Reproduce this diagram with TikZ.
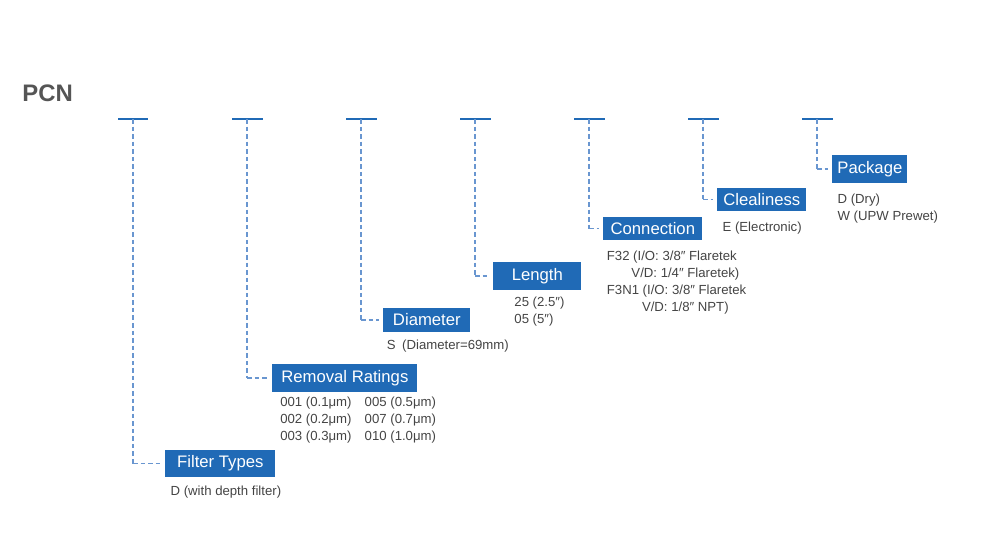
\documentclass[tikz,border=0pt]{standalone}
\usepackage{fontspec}
\setmainfont{Liberation Sans}
\usetikzlibrary{positioning}
\definecolor{tagblue}{RGB}{32,106,182}
\definecolor{leadblue}{RGB}{105,150,208}
\definecolor{notegray}{RGB}{68,68,68}
\definecolor{titlegray}{RGB}{85,85,85}

\begin{document}
\begin{tikzpicture}[
  x=0.02cm, y=-0.02cm,
  bar/.style={fill=tagblue, minimum width=0.62cm, minimum height=1.3pt, inner sep=0pt},
  tag/.style={fill=tagblue, text=white, font=\fontsize{9.5}{11}\selectfont,
    minimum height=0.42cm, inner xsep=0pt, anchor=west},
  note/.style={text=notegray, font=\fontsize{7.5}{9.7}\selectfont, align=left, inner sep=0pt},
  lead/.style={draw=leadblue, dash pattern=on 2.6pt off 1.7pt, line width=0.9pt}
]
\useasboundingbox (0,0) rectangle (1000,538);

\node[font=\bfseries\fontsize{13.6}{16}\selectfont, text=titlegray, anchor=west, inner sep=0pt] (pcn) at (22,93) {PCN};

% code positions
\foreach \i/\x in {1/133,2/247,3/361,4/475,5/589,6/703,7/817}
  \node[bar] (b\i) at (\x,119) {};

% field tags
\node[tag, minimum width=2.2cm] (ft) at (165,463.5) {Filter Types};
\node[tag, minimum width=2.9cm] (rr) at (272,378) {Removal Ratings};
\node[tag, minimum width=1.74cm] (dm) at (383,320) {Diameter};
\node[tag, minimum width=1.76cm] (ln) at (493,276) {Length};
\node[tag, minimum width=1.98cm] (cn) at (603,228.5) {Connection};
\node[tag, minimum width=1.78cm] (cl) at (717,199.5) {Clealiness};
\node[tag, minimum width=1.5cm] (pk) at (832,169) {Package};

\foreach \b/\t in {b1/ft,b2/rr,b3/dm,b4/ln,b5/cn,b6/cl,b7/pk}{
  \coordinate (c\t) at (\b.center |- \t.west);
  \draw[lead] (\b.center) -- (c\t);
  \draw[lead, shorten >=2.2pt] (c\t) -- (\t.west);
}

% options
\node[note, below=4.5pt of ft.south west, anchor=north west, xshift=3pt] (ftn) {D (with depth filter)};
\node[note, below=1.2pt of rr.south west, anchor=north west, xshift=4.5pt] (rrn)
  {\begin{tabular}{@{}l@{\hspace{7.5pt}}l@{}}
   001 (0.1μm) & 005 (0.5μm)\\
   002 (0.2μm) & 007 (0.7μm)\\
   003 (0.3μm) & 010 (1.0μm)
   \end{tabular}};
\node[note, below=4pt of dm.south west, anchor=north west, xshift=2pt] (dmn) {S\enspace(Diameter=69mm)};
\node[note, below=3.5pt of ln.south west, anchor=north west, xshift=12pt] (lnn) {25 (2.5″)\\05 (5″)};
\node[note, below=5.5pt of cn.south west, anchor=north west, xshift=2pt] (cnn)
  {F32 (I/O: 3/8″ Flaretek\\
   \hspace{14pt}V/D: 1/4″ Flaretek)\\
   F3N1 (I/O: 3/8″ Flaretek\\
   \hspace{20pt}V/D: 1/8″ NPT)};
\node[note, below=5.5pt of cl.south west, anchor=north west, xshift=3pt] (cln) {E (Electronic)};
\node[note, below=6pt of pk.south west, anchor=north west, xshift=3pt] (pkn) {D (Dry)\\W (UPW Prewet)};

\end{tikzpicture}
\end{document}
